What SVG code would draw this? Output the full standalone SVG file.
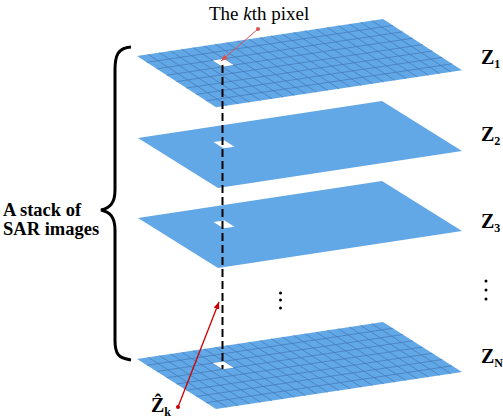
<svg xmlns="http://www.w3.org/2000/svg" xmlns:xlink="http://www.w3.org/1999/xlink" width="503" height="419" viewBox="0 0 503 419">
<style>
.plane{fill:#62a7e6}
.grid{fill:none;stroke:#4278b4;stroke-width:0.7}
.pix{fill:#ffffff}
.lbl{font-family:"Liberation Serif",serif;fill:#000}
.zl{font-family:"Liberation Serif",serif;font-weight:bold;font-size:20px;fill:#000}
.sub{font-size:12px}
.dash{stroke:#000;stroke-width:2;stroke-dasharray:8 4;fill:none}
.brace{fill:none;stroke:#000;stroke-width:3}
</style>
<defs>
<g id="plainPlane">
<rect class="plane" x="0" y="0" width="22" height="8"/>
<rect class="pix" x="5" y="2" width="1" height="1"/>
</g>
<g id="gridPlane">
<rect class="plane" x="0" y="0" width="22" height="8"/>
<path class="grid" vector-effect="non-scaling-stroke" d="M1 0V8M2 0V8M3 0V8M4 0V8M5 0V8M6 0V8M7 0V8M8 0V8M9 0V8M10 0V8M11 0V8M12 0V8M13 0V8M14 0V8M15 0V8M16 0V8M17 0V8M18 0V8M19 0V8M20 0V8M21 0V8M0 1H22M0 2H22M0 3H22M0 4H22M0 5H22M0 6H22M0 7H22"/>
<rect class="pix" x="5" y="2" width="1" height="1"/>
</g>
<marker id="ah1" markerWidth="8" markerHeight="8" refX="7" refY="4" orient="auto" markerUnits="userSpaceOnUse">
<path d="M0,1 L7,4 L0,7 z" fill="#d9534f"/>
</marker>
<marker id="ah2" markerWidth="8" markerHeight="8" refX="7" refY="4" orient="auto" markerUnits="userSpaceOnUse">
<path d="M0,1 L7,4 L0,7 z" fill="#cc0000"/>
</marker>
</defs>

<g id="plane1">
<use xlink:href="#gridPlane" transform="matrix(11.1818,-1.6818,9.875,6.4,137,56)"/>
</g>
<g id="plane2">
<use xlink:href="#plainPlane" transform="matrix(11.0909,-1.6818,10,6.25,138,138)"/>
</g>
<g id="plane3">
<use xlink:href="#plainPlane" transform="matrix(11.0909,-1.6818,10,6.25,138,218)"/>
</g>
<g id="planeN">
<use xlink:href="#gridPlane" transform="matrix(11.1818,-1.6818,9.875,6.25,137,359)"/>
</g>

<g id="connectors">
<line class="dash" x1="222.5" y1="65" x2="222.5" y2="369"/>
<line x1="258" y1="29" x2="221" y2="61" stroke="#d9534f" stroke-width="1" marker-end="url(#ah1)"/>
<circle cx="258" cy="29" r="2" fill="#d9534f"/>
<line x1="178" y1="407" x2="219" y2="302" stroke="#cc0000" stroke-width="1.3" marker-end="url(#ah2)"/>
<circle cx="178" cy="407" r="2" fill="#cc0000"/>
</g>

<g id="brace">
<path class="brace" d="M131,47 C118,48 115,55 115,70 L115,190 C115,203 110,208 101,210 C110,212 115,217 115,230 L115,340 C115,354 118,358 131,360"/>
</g>

<g id="labels">
<text class="lbl" x="209" y="20" font-size="19">The <tspan font-style="italic">k</tspan>th pixel</text>
<text class="lbl" x="3" y="216" font-size="18.5" font-weight="bold">A stack of</text>
<text class="lbl" x="3" y="235" font-size="18.5" font-weight="bold">SAR images</text>
<text class="zl" x="481" y="64">Z<tspan class="sub" dy="4">1</tspan></text>
<text class="zl" x="481" y="141">Z<tspan class="sub" dy="4">2</tspan></text>
<text class="zl" x="481" y="228">Z<tspan class="sub" dy="4">3</tspan></text>
<text class="zl" x="481" y="363">Z<tspan class="sub" dy="4">N</tspan></text>
<text class="zl" x="151" y="412">Ẑ<tspan class="sub" dy="4" font-size="11">k</tspan></text>
</g>

<g id="dots">
<circle cx="280.5" cy="293" r="1.5" fill="#000"/>
<circle cx="280.5" cy="300" r="1.5" fill="#000"/>
<circle cx="280.5" cy="308" r="1.5" fill="#000"/>
<circle cx="486" cy="281" r="1.5" fill="#000"/>
<circle cx="486" cy="290" r="1.5" fill="#000"/>
<circle cx="486" cy="299" r="1.5" fill="#000"/>
</g>
</svg>
